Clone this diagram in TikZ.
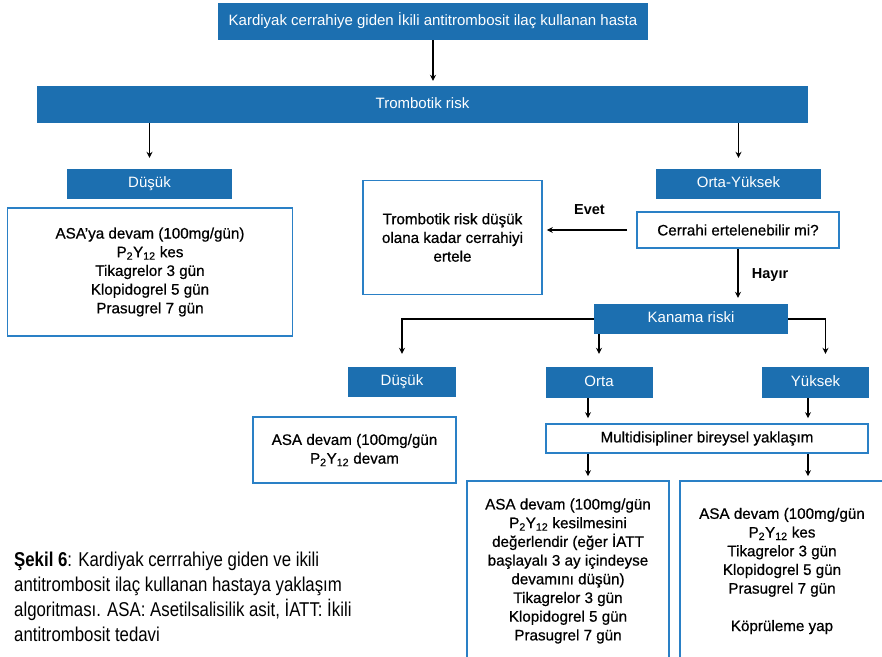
\documentclass[tikz,border=0pt]{standalone}
\usepackage{fontspec}
\setmainfont{Liberation Sans}
\newfontfamily\bodyfont[FakeBold=0.6]{Liberation Sans}
\newfontfamily\capfont[FakeStretch=0.84]{Liberation Sans}
\usetikzlibrary{arrows.meta}

\definecolor{tblue}{RGB}{28,111,176}
\definecolor{bborder}{RGB}{42,128,198}

\tikzset{
  bluebox/.style={fill=tblue, draw=none, text=white, inner sep=0pt,
    text height=0.72em, text depth=0pt,
    font=\fontsize{15}{18.5}\selectfont},
  whitebox/.style={fill=white, draw=bborder, line width=1.7pt, align=center,
    inner sep=0pt, font=\bodyfont\fontsize{15.2}{18.7}\selectfont},
  conn/.style={line width=1.2pt, -{Stealth[length=6pt,width=6pt]}},
  branchlabel/.style={font=\bfseries\fontsize{14.5}{17}\selectfont},
}

\begin{document}
\begin{tikzpicture}[x=1pt, y=-1pt]
\useasboundingbox (0,0) rectangle (882,656);
\clip (0,0) rectangle (882,656);
\fill[white] (0,0) rectangle (882,656);

% column guides for the lower connectors
\coordinate (xa) at (588,0);
\coordinate (xb) at (808,0);

% upper part
\node[bluebox, minimum width=430pt, minimum height=37pt] (top) at (433,21.5)
  {Kardiyak cerrahiye giden İkili antitrombosit ilaç kullanan hasta};
\node[bluebox, minimum width=771pt, minimum height=37pt] (trisk) at (422.5,104.5)
  {Trombotik risk};

\node[bluebox, minimum width=165pt, minimum height=30pt] (low1) at (149.5,184) {Düşük};
\node[whitebox, minimum width=285pt, minimum height=128pt] (lowbox1) at (150,272)
  {ASA’ya devam (100mg/gün)\\ P\textsubscript{2}Y\textsubscript{12} kes\\ Tikagrelor 3 gün\\
   Klopidogrel 5 gün\\ Prasugrel 7 gün};

\node[bluebox, minimum width=165pt, minimum height=30pt] (oy) at (738.5,184) {Orta-Yüksek};
\node[whitebox, minimum width=202pt, minimum height=36pt] (cerrahi) at (738,230)
  {Cerrahi ertelenebilir mi?};
\node[whitebox, minimum width=179pt, minimum height=114pt] (ertele) at (452.5,237.5)
  {Trombotik risk düşük\\ olana kadar cerrahiyi\\ ertele};

% bleeding risk
\node[bluebox, minimum width=194pt, minimum height=30pt] (kanama) at (691,319) {Kanama riski};
\node[bluebox, minimum width=108pt, minimum height=30pt] (low2) at (402,382) {Düşük};
\node[bluebox, minimum width=107pt, minimum height=31pt] (orta) at (599,382.5) {Orta};
\node[bluebox, minimum width=107pt, minimum height=31pt] (yuksek) at (815.5,382.5) {Yüksek};

\node[whitebox, minimum width=203pt, minimum height=66pt] (lowbox2) at (354.5,450)
  {ASA devam (100mg/gün\\ P\textsubscript{2}Y\textsubscript{12} devam};
\node[whitebox, minimum width=322pt, minimum height=29pt] (multi) at (707,438.5)
  {Multidisipliner bireysel yaklaşım};

\node[whitebox, minimum width=202pt, minimum height=180pt] (ortabox) at (568,571)
  {ASA devam (100mg/gün\\ P\textsubscript{2}Y\textsubscript{12} kesilmesini\\
   değerlendir (eğer İATT\\ başlayalı 3 ay içindeyse\\ devamını düşün)\\
   Tikagrelor 3 gün\\ Klopidogrel 5 gün\\ Prasugrel 7 gün};
\node[whitebox, minimum width=204pt, minimum height=180pt] (yukbox) at (782,571)
  {ASA devam (100mg/gün\\ P\textsubscript{2}Y\textsubscript{12} kes\\ Tikagrelor 3 gün\\
   Klopidogrel 5 gün\\ Prasugrel 7 gün\\[18.7pt] Köprüleme yap};

% caption
\node[anchor=west, align=left, inner sep=0pt,
      font=\capfont\fontsize{20}{25}\selectfont] (caption) at (14,597)
  {\textbf{Şekil 6}: Kardiyak cerrrahiye giden ve ikili\\
   antitrombosit ilaç kullanan hastaya yaklaşım\\
   algoritması. ASA: Asetilsalisilik asit, İATT: İkili\\
   antitrombosit tedavi};

% connectors
\draw[conn, shorten >=5pt] (top) -- (top |- trisk.north);
\draw[conn, shorten >=11pt] (trisk.south -| low1) -- (low1);
\draw[conn, shorten >=11pt] (trisk.south -| oy) -- (oy);
\draw[conn, shorten <=9pt, shorten >=4pt] (cerrahi.west) -- (cerrahi.west -| ertele.east)
  node[branchlabel, midway, yshift=20pt] {Evet};
\draw[conn, shorten >=6pt] (cerrahi) -- (cerrahi |- kanama.north)
  node[branchlabel, midway, anchor=west, xshift=10pt, yshift=1pt] {Hayır};
\draw[conn, shorten >=13pt] (kanama.west) -| (low2);
\draw[conn, shorten >=13pt] (kanama.south -| orta) -- (orta);
\draw[conn, shorten >=13pt] (kanama.east) -| ([xshift=10pt]yuksek.north);
\draw[conn, shorten >=5pt] (orta.south -| xa) -- (multi.north -| xa);
\draw[conn, shorten >=5pt] (yuksek.south -| xb) -- (multi.north -| xb);
\draw[conn, shorten >=4pt] (multi.south -| xa) -- (ortabox.north -| xa);
\draw[conn, shorten >=4pt] (multi.south -| xb) -- (yukbox.north -| xb);
\end{tikzpicture}
\end{document}
